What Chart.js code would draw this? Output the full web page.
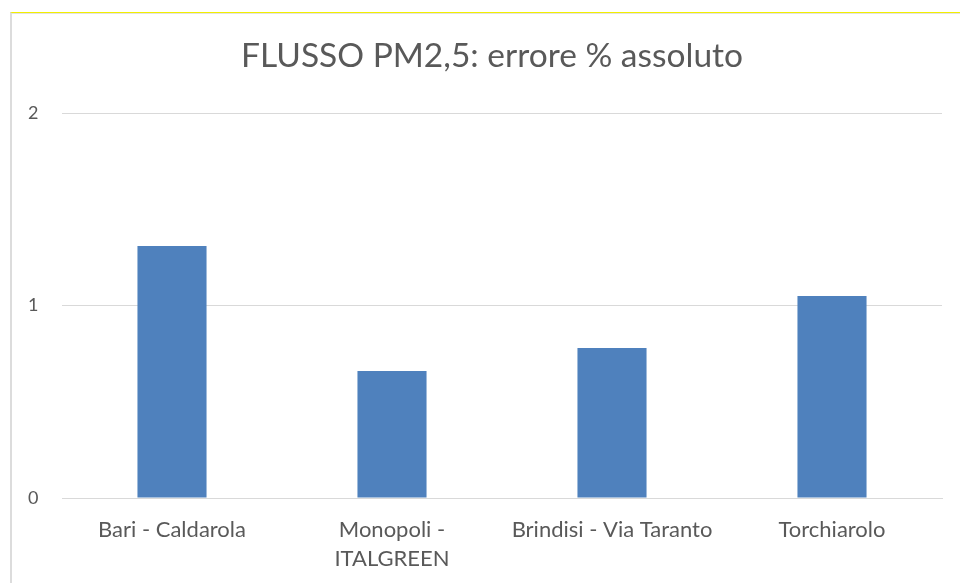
<!DOCTYPE html>
<html>
<head>
<meta charset="utf-8">
<script src="https://cdn.jsdelivr.net/npm/chart.js@4.4.1/dist/chart.umd.min.js"></script>
<style>
  html, body { margin: 0; padding: 0; background: #fff; }
  body { width: 960px; height: 583px; position: relative; overflow: hidden; }
  .frame {
    position: absolute; left: 10px; top: 12px; right: 0; bottom: 0;
    border-top: 1px solid #f2ee00;
    border-left: 2px solid #dcdcdc;
    box-shadow: inset 0 1px 0 #e2e2e2;
  }
  #chart { position: absolute; left: 0; top: 0; }
</style>
</head>
<body>
<div class="frame"></div>
<canvas id="chart" width="960" height="583"></canvas>
<script>
// Data
const stations = [['Bari - Caldarola'], ['Monopoli -', 'ITALGREEN'], ['Brindisi - Via Taranto'], ['Torchiarolo']];
const errorPct = [1.31, 0.66, 0.78, 1.05];
const yTicks = [0, 1, 2];

const TEXT_COLOR = '#595959';
const GRID_COLOR = '#d9d9d9';
const BAR_COLOR = '#4f81bd';

Chart.defaults.font.family = "Lato, 'Open Sans', sans-serif";
Chart.defaults.color = TEXT_COLOR;

new Chart(document.getElementById('chart'), {
  type: 'bar',
  data: {
    labels: stations,
    datasets: [{
      data: errorPct,
      backgroundColor: BAR_COLOR,
      borderWidth: 0,
      categoryPercentage: 1,
      barPercentage: 0.314
    }]
  },
  options: {
    responsive: false,
    animation: false,
    // left padding shifts the title centre to match the original
    layout: { padding: { left: 42, right: 18, top: 0, bottom: 0 } },
    plugins: {
      legend: { display: false },
      tooltip: { enabled: false },
      title: {
        display: true,
        text: 'FLUSSO PM2,5: errore % assoluto',
        color: TEXT_COLOR,
        font: { size: 33.5, weight: 'normal', lineHeight: 1.2 },
        padding: { top: 36, bottom: 37 }
      }
    },
    scales: {
      x: {
        grid: { display: false, drawTicks: false },
        border: { color: GRID_COLOR, width: 1 },
        ticks: {
          color: TEXT_COLOR,
          font: { size: 22, lineHeight: 1.34 },
          padding: 17,
          maxRotation: 0,
          autoSkip: false
        },
        afterFit: (scale) => { scale.height = 85; }
      },
      y: {
        min: 0,
        max: 2,
        afterBuildTicks: (scale) => { scale.ticks = yTicks.map(v => ({ value: v })); },
        grid: { color: GRID_COLOR, lineWidth: 1, drawTicks: false },
        border: { display: false },
        // mirrored with a negative padding so labels sit left of the narrow axis box without clipping
        ticks: {
          color: TEXT_COLOR,
          font: { size: 18 },
          mirror: true,
          padding: -34
        },
        afterFit: (scale) => { scale.width = 20; }
      }
    }
  }
});
</script>
</body>
</html>
